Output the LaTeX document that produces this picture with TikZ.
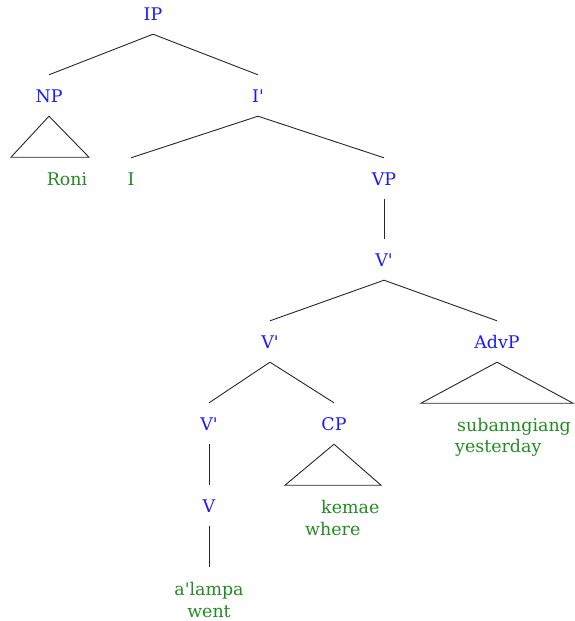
\documentclass[tikz,border=0pt]{standalone}
\usepackage{fontspec}
\setmainfont{DejaVu Serif}
\definecolor{labblue}{RGB}{26,26,255}
\definecolor{leafgreen}{RGB}{34,139,34}
\begin{document}
\begin{tikzpicture}[x=1bp,y=-1bp,
  cat/.style={inner sep=0pt, text height=27.5bp, text depth=13.5bp, anchor=base, text=labblue, font=\fontsize{17.5}{21.5}\selectfont},
  leafcat/.style={cat, text=leafgreen},
  leaf/.style={inner sep=0pt, anchor=base, text=leafgreen, font=\fontsize{17.5}{21.5}\selectfont},
  edge/.style={draw=black!85, line width=0.9pt},
  tri/.style={draw=black!85, line width=0.9pt, line join=miter}]
\useasboundingbox (0,0) rectangle (575,621);
% categories
\node[cat] (IP) at (153,20.5) {IP};
\node[cat] (NP) at (49,102.5) {NP};
\node[cat] (Ib) at (258,102.5) {I\textquotesingle};
\node[cat] (VP) at (384,185.5) {VP};
\node[cat] (Vb1) at (384,266.5) {V\textquotesingle};
\node[cat] (Vb2) at (270,348.5) {V\textquotesingle};
\node[cat] (AdvP) at (497,348.5) {AdvP};
\node[cat] (Vb3) at (209,430.5) {V\textquotesingle};
\node[cat] (CP) at (334,430.5) {CP};
\node[cat] (V) at (209,512.5) {V};
% leaves
\node[leaf] (Roni) at (67,185.5) {Roni};
\node[leafcat] (I) at (131,185.5) {I};
\node[leaf, align=left, anchor=base west] (sub) at (455,452.5) {\hspace*{2bp}subanngiang\\yesterday};
\node[leaf, align=left, anchor=base west] (kem) at (305,535) {\hspace*{16bp}kemae\\where};
\node[leaf, align=center] (alam) at (209,617) {a\textquotesingle lampa\\went};
% edges
\draw[edge] (IP.south) -- (NP.north);
\draw[edge] (IP.south) -- (Ib.north);
\draw[edge] (Ib.south) -- (I.north);
\draw[edge] (Ib.south) -- (VP.north);
\draw[edge] (VP.south) -- (Vb1.north);
\draw[edge] (Vb1.south) -- (Vb2.north);
\draw[edge] (Vb1.south) -- (AdvP.north);
\draw[edge] (Vb2.south) -- (Vb3.north);
\draw[edge] (Vb2.south) -- (CP.north);
\draw[edge] (Vb3.south) -- (V.north);
\draw[edge] (V.south) -- ++(0,41);
% triangles
\draw[tri] (NP.south) -- ++(-38,41) -- ++(78,0) -- cycle;
\draw[tri] (AdvP.south) -- ++(-76,41) -- ++(152,0) -- cycle;
\draw[tri] (CP.south) -- ++(-49,41) -- ++(96,0) -- cycle;
\end{tikzpicture}
\end{document}
